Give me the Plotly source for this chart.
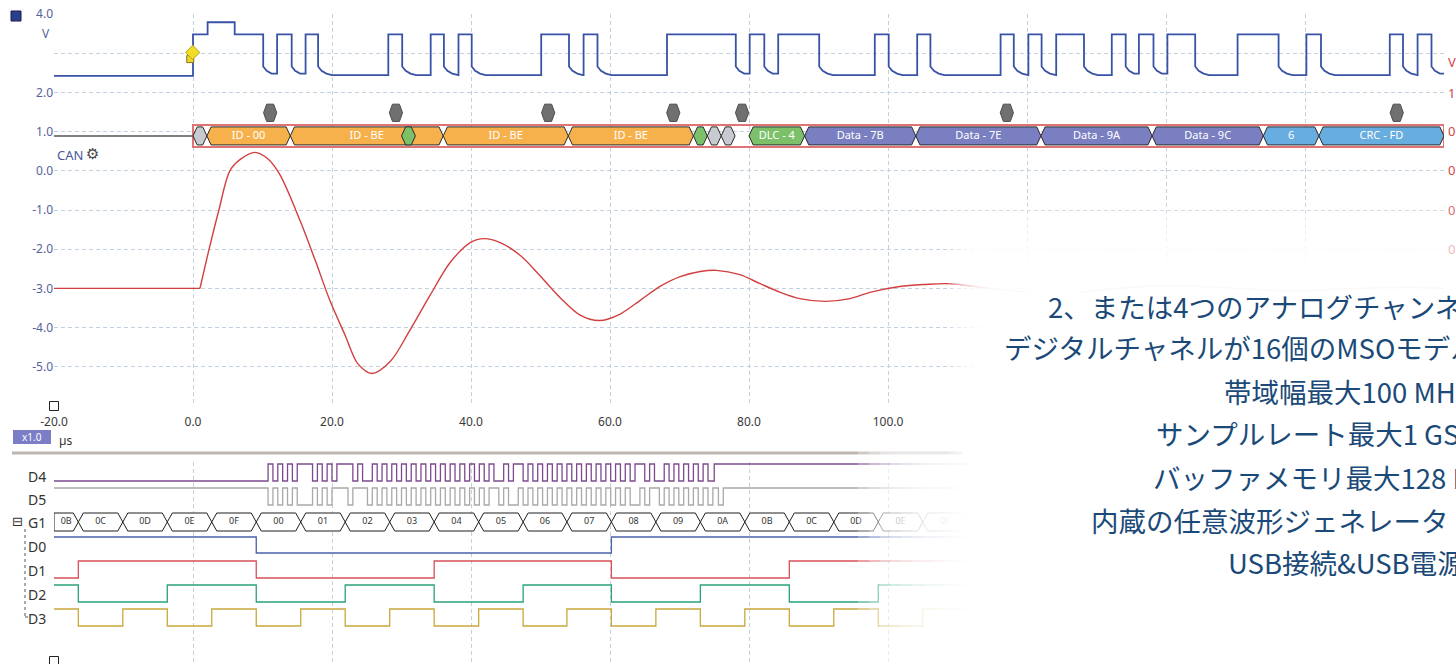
import plotly.graph_objects as go

W, H = 1456, 664

# ---------------- data ----------------
time_ticks = [-20, 0, 20, 40, 60, 80, 100, 120, 140, 160, 180]
time_tick_text = ["-20.0", "0.0", "20.0", "40.0", "60.0", "80.0", "100.0", "", "", "", ""]
volt_ticks = [-6, -5, -4, -3, -2, -1, 0, 1, 2, 3, 4]
volt_tick_text = ["", "-5.0", "-4.0", "-3.0", "-2.0", "-1.0", "0.0", "1.0", "2.0", "", "4.0"]

# CAN analog channel (blue): edge times in µs, the bus starts recessive
can_edges = [0.0, 10.1, 12.1, 14.2, 16.2, 18.0, 28.1, 30.1, 34.2, 36.1, 38.2, 40.1,
             50.1, 54.1, 56.2, 58.2, 68.2, 78.1, 80.1, 82.2, 84.2, 90.1, 98.1, 100.1,
             104.2, 106.1, 116.2, 118.1, 120.2, 122.1, 124.2, 128.2, 132.2, 134.2,
             136.1, 138.2, 140.2, 144.2, 150.3, 156.2, 160.2, 162.3, 172.2, 174.1,
             176.2, 178.2]
can_high_v = 3.48
can_low_v = 2.42
can_droop_dt = [0.0, 0.5, 1.2, 2.0]
can_droop_v = [2.66, 2.55, 2.48, 2.44]
sof_peak_t = [2.1, 6.0]
sof_peak_v = 3.79

# second analog channel (red)
red_t = [-20, 1.0, 2.3, 3.7, 5.3, 6.8, 8.9, 10.8, 12.5, 15.4, 17.6, 19.7, 21.9, 23.7,
         25.8, 28.4, 31.2, 34.1, 37.0, 39.9, 41.9, 44.2, 47.1, 49.9, 52.8, 55.7, 58.5,
         61.4, 64.3, 67.2, 70.1, 73.0, 75.3, 78.7, 81.6, 84.5, 87.3, 91.1, 94.5, 97.4,
         101.7, 105.3, 108.9, 114.7, 120.4, 124.7, 130.5, 136.3, 142.0, 150.0, 158.0,
         167.0, 175.0, 180.0]
red_v = [-3.0, -3.0, -2.01, -1.02, 0.0, 0.29, 0.47, 0.3, -0.1, -1.27, -2.29, -3.31,
         -4.2, -4.92, -5.17, -4.86, -4.07, -3.18, -2.34, -1.83, -1.73, -1.83, -2.16,
         -2.67, -3.23, -3.68, -3.82, -3.66, -3.31, -2.95, -2.7, -2.57, -2.54, -2.65,
         -2.88, -3.1, -3.26, -3.33, -3.26, -3.1, -2.95, -2.9, -2.88, -3.0, -3.1, -3.13,
         -3.05, -2.95, -2.93, -3.0, -3.07, -3.0, -2.97, -3.0]

# CAN decoder fields
can_seg_start = [0, 2, 14, 36, 54, 72, 74, 76, 80, 88, 104, 122, 138, 154, 162, 30]
can_seg_end = [2, 14, 36, 54, 72, 74, 76, 78, 88, 104, 122, 138, 154, 162, 180, 32]
can_seg_label = ["", "ID - 00", "ID - BE", "ID - BE", "ID - BE", "", "", "", "DLC - 4",
                 "Data - 7B", "Data - 7E", "Data - 9A", "Data - 9C", "6", "CRC - FD", ""]
can_seg_kind = ["bit", "id", "id", "id", "id", "ctl", "bit", "bit", "ctl", "data", "data",
                "data", "data", "crc", "crc", "ctl"]
stuff_t = [11.1, 29.2, 51.1, 69.1, 79.0, 117.1, 173.2]

# right-hand (red) scale labels (cut by the page edge)
right_labels = ["V", "1.0", "0.8", "0.6", "0.4", "0.2"]

# digital group G1 (D0 = MSB ... D3 = LSB)
g1_vals = ["0B", "0C", "0D", "0E", "0F", "00", "01", "02", "03", "04", "05", "06", "07",
           "08", "09", "0A", "0B", "0C", "0D", "0E", "0F"]
g1_bounds = [-20, -16.5, -10.1, -3.7, 2.7, 9.1, 15.5, 21.9, 28.3, 34.7, 41.1, 47.5, 53.8,
             60.2, 66.6, 73.0, 79.4, 85.8, 92.2, 98.6, 105.0, 111.4]

# serial digital lines D4 / D5 (edge times, µs)
d4_edges = [10.8, 11.5, 12.2, 12.9, 13.6, 14.3, 15.0, 17.2, 17.9, 18.6, 19.3, 20.0, 20.7,
            23.0, 23.7, 24.4, 25.8, 26.5, 27.2, 27.9, 28.6, 29.3, 30.0, 30.7, 31.4, 32.1,
            32.8, 33.5, 34.2, 34.9, 35.6, 36.3, 37.0, 37.7, 38.4, 39.1, 39.8, 40.5, 41.2,
            41.9, 42.6, 43.3, 44.7, 45.4, 46.1, 47.5, 48.2, 48.9, 49.6, 50.3, 51.0, 51.7,
            52.4, 53.1, 53.8, 54.5, 55.2, 55.9, 56.6, 57.3, 58.0, 58.7, 59.4, 60.1, 60.8,
            61.5, 62.2, 62.9, 63.6, 65.0, 65.7, 66.4, 67.8, 68.5, 69.2, 69.9, 70.6, 71.3,
            72.0, 72.7, 73.4, 74.1, 75.0]
d5_edges = [10.8, 11.5, 12.2, 12.9, 13.6, 14.3, 15.0, 17.2, 17.9, 18.6, 19.3, 20.0, 22.3,
            23.0, 25.1, 25.8, 26.5, 27.2, 27.9, 28.6, 29.3, 30.0, 30.7, 31.4, 32.1, 32.8,
            33.5, 34.2, 34.9, 35.6, 36.3, 37.0, 37.7, 38.4, 39.1, 39.8, 40.5, 41.2, 41.9,
            42.6, 44.0, 44.7, 45.4, 46.8, 47.5, 48.2, 48.9, 49.6, 50.3, 51.0, 51.7, 52.4,
            53.1, 53.8, 54.5, 55.2, 55.9, 56.6, 57.3, 58.0, 58.7, 59.4, 60.1, 60.8, 61.5,
            62.2, 62.9, 64.3, 65.0, 65.7, 67.1, 67.8, 68.5, 69.2, 69.9, 70.6, 71.3, 72.0,
            72.7, 73.4, 74.1, 74.8, 75.6, 76.3]

japanese_lines = ["2、または4つのアナログチャンネル",
                  "デジタルチャネルが16個のMSOモデル",
                  "帯域幅最大100 MHz",
                  "サンプルレート最大1 GS/s",
                  "バッファメモリ最大128 MS",
                  "内蔵の任意波形ジェネレータ",
                  "USB接続&USB電源"]

# ---------------- styling / layout constants ----------------
X_RANGE = [-20, 180]
PX_L, PX_R = 54, 1444             # screen pixels
TOP_PX, BOT_PX = 14, 406          # analog panel
DIG_TOP, DIG_BOT = 462, 662       # digital panel

def px_x(p):
    return p / W

def px_y(p):
    return 1 - p / H

GRID = "#c3d1df"
TICK_BLUE = "#56619c"
BLUE = "#3853a6"
RED = "#d23f3f"
SEG_COL = {"bit": "#c7cbd1", "id": "#f6b14d", "ctl": "#7cc06a", "data": "#7a7fc1", "crc": "#68ade0"}

ROW = {"D4": (2, 19), "D5": (26, 43), "D0": (75, 91), "D1": (99, 116), "D2": (123, 140), "D3": (147, 164)}
G1_MID, G1_HALF = 60, 9
DIG_COL = {"D4": "#7d4a8e", "D5": "#a9a9a9", "D0": "#4961a9", "D1": "#d8505a", "D2": "#2aa27a", "D3": "#c9a83c"}
ROW_LABEL_PX = {"D4": 476, "D5": 499, "G1": 522, "D0": 546, "D1": 570, "D2": 594, "D3": 618}

fig = go.Figure()

# ---------- blue CAN trace ----------
bx, by = [X_RANGE[0]], [can_low_v]
state = 0
for i, t in enumerate(can_edges):
    nxt = can_edges[i + 1] if i + 1 < len(can_edges) else X_RANGE[1]
    if state == 0:
        bx += [t, t]
        by += [by[-1], can_high_v]
        if i == 0:
            bx += [sof_peak_t[0], sof_peak_t[0], sof_peak_t[1], sof_peak_t[1]]
            by += [can_high_v, sof_peak_v, sof_peak_v, can_high_v]
        state = 1
    else:
        bx.append(t)
        by.append(can_high_v)
        for dt, v in zip(can_droop_dt, can_droop_v):
            if t + dt < nxt:
                bx.append(t + dt)
                by.append(v)
        state = 0
bx.append(X_RANGE[1])
by.append(by[-1])
fig.add_trace(go.Scatter(x=bx, y=by, mode="lines", line=dict(color=BLUE, width=1.8),
                         xaxis="x", yaxis="y", hoverinfo="skip"))

# ---------- red trace (flat pre-trigger part + smooth ringing) ----------
fig.add_trace(go.Scatter(x=red_t[:2], y=red_v[:2], mode="lines", line=dict(color=RED, width=1.4),
                         xaxis="x", yaxis="y", hoverinfo="skip"))
fig.add_trace(go.Scatter(x=red_t[1:], y=red_v[1:], mode="lines",
                         line=dict(color=RED, width=1.4, shape="spline", smoothing=0.9),
                         xaxis="x", yaxis="y", hoverinfo="skip"))

# ---------- decoder idle line ----------
bar_lo, bar_hi = 0.66, 1.12
bar_mid = (bar_lo + bar_hi) / 2
fig.add_trace(go.Scatter(x=[X_RANGE[0], can_seg_start[0]], y=[bar_mid, bar_mid], mode="lines",
                         line=dict(color="#555555", width=1.5), xaxis="x", yaxis="y", hoverinfo="skip"))

shapes = []

def hexpath(t0, t1, lo, hi, d, flat_left=False):
    mid = (lo + hi) / 2
    if flat_left:
        return f"M{t0},{hi} L{t1-d},{hi} L{t1},{mid} L{t1-d},{lo} L{t0},{lo} Z"
    return f"M{t0},{mid} L{t0+d},{hi} L{t1-d},{hi} L{t1},{mid} L{t1-d},{lo} L{t0+d},{lo} Z"

shapes.append(dict(type="rect", xref="x", yref="y", x0=can_seg_start[0], x1=X_RANGE[1],
                   y0=0.61, y1=1.17, line=dict(color="#e07474", width=2), fillcolor="rgba(0,0,0,0)", layer="between"))
for s, e, k in zip(can_seg_start, can_seg_end, can_seg_kind):
    shapes.append(dict(type="path", xref="x", yref="y", path=hexpath(s, e, bar_lo, bar_hi, 0.6),
                       fillcolor=SEG_COL[k], line=dict(color="#2a2a2a", width=1), layer="between"))
for t in stuff_t:
    shapes.append(dict(type="path", xref="x", yref="y", path=hexpath(t - 0.95, t + 0.95, 1.26, 1.70, 0.45),
                       fillcolor="#707070", line=dict(color="#4d4d4d", width=1), layer="between"))

seg_cx = [(s + e) / 2 for s, e, l in zip(can_seg_start, can_seg_end, can_seg_label) if l]
seg_tx = [l for l in can_seg_label if l]
fig.add_trace(go.Scatter(x=seg_cx, y=[bar_mid] * len(seg_cx), mode="text", text=seg_tx,
                         textfont=dict(color="white", size=11, family="Noto Sans"),
                         xaxis="x", yaxis="y", hoverinfo="skip", cliponaxis=False))

# trigger marker
fig.add_trace(go.Scatter(x=[-0.4], y=[2.85], mode="markers",
                         marker=dict(symbol="square", size=7, color="#efd52a", line=dict(color="#8a7a10", width=1)),
                         xaxis="x", yaxis="y", hoverinfo="skip", cliponaxis=False))
fig.add_trace(go.Scatter(x=[-0.05], y=[3.02], mode="markers",
                         marker=dict(symbol="diamond", size=11, color="#f2dc2a", line=dict(color="#b8a414", width=1)),
                         xaxis="x", yaxis="y", hoverinfo="skip", cliponaxis=False))
# corner squares
fig.add_trace(go.Scatter(x=[X_RANGE[0]], y=[-6], mode="markers",
                         marker=dict(symbol="square-open", size=9, color="#222", line=dict(width=1)),
                         xaxis="x", yaxis="y", hoverinfo="skip", cliponaxis=False))
fig.add_trace(go.Scatter(x=[X_RANGE[0]], y=[199], mode="markers",
                         marker=dict(symbol="square-open", size=9, color="#222", line=dict(width=1)),
                         xaxis="x2", yaxis="y2", hoverinfo="skip", cliponaxis=False))

# ---------- digital traces ----------
def step_from_edges(edges, start_high, lvl, end_t):
    hi, lo = lvl
    xs, ys = [X_RANGE[0]], [hi if start_high else lo]
    st = start_high
    for t in edges:
        st = not st
        xs.append(t)
        ys.append(hi if st else lo)
    xs.append(end_t)
    ys.append(ys[-1])
    return xs, ys

END_T = 125
for name, edges, sh in (("D4", d4_edges, False), ("D5", d5_edges, True)):
    xs, ys = step_from_edges(edges, sh, ROW[name], END_T)
    fig.add_trace(go.Scatter(x=xs, y=ys, mode="lines", line=dict(color=DIG_COL[name], width=1.3, shape="hv"),
                             xaxis="x2", yaxis="y2", hoverinfo="skip"))

for bit, name in zip([3, 2, 1, 0], ["D0", "D1", "D2", "D3"]):
    hi, lo = ROW[name]
    xs = list(g1_bounds[:-1]) + [END_T]
    ys = [hi if (int(v, 16) >> bit) & 1 else lo for v in g1_vals]
    ys = ys + [ys[-1]]
    fig.add_trace(go.Scatter(x=xs, y=ys, mode="lines", line=dict(color=DIG_COL[name], width=1.3, shape="hv"),
                             xaxis="x2", yaxis="y2", hoverinfo="skip"))

for i, v in enumerate(g1_vals):
    t0, t1 = g1_bounds[i], g1_bounds[i + 1]
    shapes.append(dict(type="path", xref="x2", yref="y2",
                       path=hexpath(t0, t1, G1_MID + G1_HALF, G1_MID - G1_HALF, 0.72, flat_left=(i == 0)),
                       fillcolor="white", line=dict(color="#1e1e1e", width=1), layer="between"))
g1_cx = [(g1_bounds[i] + g1_bounds[i + 1]) / 2 for i in range(len(g1_vals))]
fig.add_trace(go.Scatter(x=g1_cx, y=[G1_MID] * len(g1_vals), mode="text", text=g1_vals,
                         textfont=dict(color="#333", size=9, family="Noto Sans"),
                         xaxis="x2", yaxis="y2", hoverinfo="skip"))

# ---------- decorations ----------
shapes.append(dict(type="rect", xref="paper", yref="paper", x0=px_x(11), x1=px_x(21), y0=px_y(21), y1=px_y(11),
                   fillcolor="#2c3f8f", line=dict(color="#1a1a40", width=1)))
shapes.append(dict(type="rect", xref="paper", yref="paper", x0=px_x(13), x1=px_x(51), y0=px_y(444), y1=px_y(430),
                   fillcolor="#7b7dc6", line=dict(width=0)))
shapes.append(dict(type="line", xref="paper", yref="paper", x0=px_x(12), x1=px_x(962), y0=px_y(453), y1=px_y(453),
                   line=dict(color="#beb6b1", width=3)))
shapes.append(dict(type="line", xref="paper", yref="paper", x0=px_x(25), x1=px_x(25), y0=px_y(529), y1=px_y(617),
                   line=dict(color="#555", width=1, dash="dot")))
shapes.append(dict(type="line", xref="paper", yref="paper", x0=px_x(25), x1=px_x(30), y0=px_y(617), y1=px_y(617),
                   line=dict(color="#555", width=1, dash="dot")))

# white fade overlay (right-hand block)
def fade(x0, x1, y0, y1, n, op):
    for k in range(n):
        xa = x0 + (x1 - x0) * k / n
        ya = y0 + (y1 - y0) * k / n
        shapes.append(dict(type="rect", xref="paper", yref="paper", x0=px_x(xa), x1=1.0, y0=0.0, y1=px_y(ya),
                           fillcolor="white", opacity=op, line=dict(width=0), layer="above"))
    shapes.append(dict(type="rect", xref="paper", yref="paper", x0=px_x(x1), x1=1.0, y0=0.0, y1=px_y(y1),
                       fillcolor="white", opacity=1, line=dict(width=0), layer="above"))

fade(948, 1000, 205, 292, 12, 0.25)
fade(858, 966, 446, 470, 10, 0.28)

annotations = []
def ann(text, xp, yp, size=12, color="#333", anchor="center", family="Noto Sans", **kw):
    annotations.append(dict(text=text, x=px_x(xp), y=px_y(yp), xref="paper", yref="paper", showarrow=False,
                            xanchor=anchor, yanchor="middle", font=dict(size=size, color=color, family=family), **kw))

ann("V", 52, 34, 12, TICK_BLUE, "right")
ann("CAN", 55, 155, 13, "#4a5898", "left")
ann("⚙", 84, 154, 15, "#444", "left", family="DejaVu Sans")
ann("x1.0", 32, 437, 10, "white")
ann("µs", 57, 440, 12, "#333", "left")
ann("⊟", 17, 521, 13, "#333", family="DejaVu Sans")
for name, yp in ROW_LABEL_PX.items():
    ann(name, 48, yp, 14, "#333", "right")

right_px = [62, 93, 131, 170, 210, 249]
right_alpha = [1, 1, 1, 1, 0.8, 0.4]
for txt, yp, a in zip(right_labels, right_px, right_alpha):
    ann(txt, 1446, yp, 13, f"rgba(210,70,70,{a})", "left")

jp_x = [1046, 1002, 1222, 1154, 1151, 1089, 1226]
jp_y = [306, 347, 391, 433, 477, 520, 562]
for txt, xp, yp in zip(japanese_lines, jp_x, jp_y):
    ann(txt, xp, yp, 27.5, "#1b4a78", "left", family="Noto Sans CJK JP")

axis_common = dict(range=X_RANGE, showgrid=True, gridcolor=GRID, griddash="4px,3px", gridwidth=1,
                   zeroline=False, showline=False, tickvals=time_ticks, ticktext=time_tick_text,
                   automargin=False, ticklabeloverflow="allow")

fig.update_layout(
    width=W, height=H, margin=dict(l=0, r=0, t=0, b=0, autoexpand=False),
    paper_bgcolor="white", plot_bgcolor="white", showlegend=False,
    xaxis=dict(domain=[px_x(PX_L), px_x(PX_R)], anchor="y", ticks="outside", ticklen=5,
               tickcolor="rgba(0,0,0,0)", tickfont=dict(size=12, color="#3a3a3a", family="Noto Sans"),
               **axis_common),
    yaxis=dict(domain=[px_y(BOT_PX), px_y(TOP_PX)], range=[-6, 4], anchor="x", tickvals=volt_ticks,
               ticktext=volt_tick_text, showgrid=True, gridcolor=GRID, griddash="4px,3px", zeroline=False,
               automargin=False, ticklabeloverflow="allow",
               tickfont=dict(size=12, color=TICK_BLUE, family="Noto Sans")),
    xaxis2=dict(domain=[px_x(PX_L), px_x(PX_R)], anchor="y2", showticklabels=False, **axis_common),
    yaxis2=dict(domain=[px_y(DIG_BOT), px_y(DIG_TOP)], range=[200, 0], anchor="x2", tickvals=[0, 200],
                showticklabels=False, showgrid=True, gridcolor=GRID, griddash="4px,3px", zeroline=False,
                automargin=False),
    shapes=shapes, annotations=annotations,
)

# place the figure at the page's top-left corner (no default body margin), no toolbar
fig.write_html("out.html", config={"displayModeBar": False},
               post_script="document.body.style.margin='0';document.body.style.overflow='hidden';")
